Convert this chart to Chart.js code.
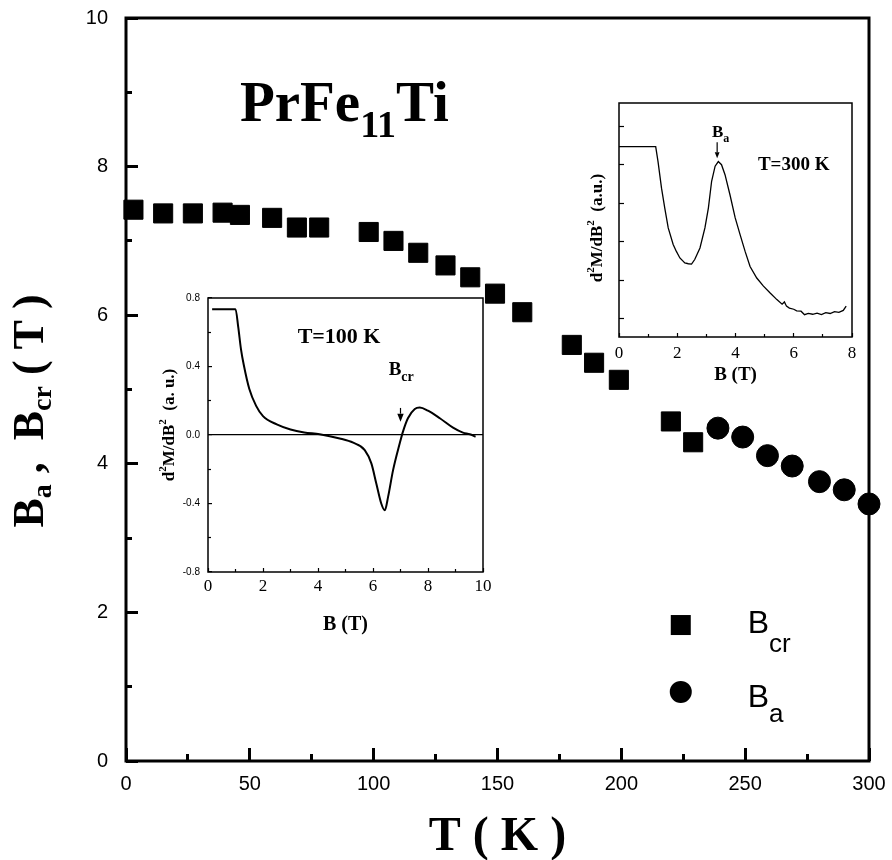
<!DOCTYPE html>
<html>
<head>
<meta charset="utf-8">
<title>PrFe11Ti</title>
<script src="https://cdn.jsdelivr.net/npm/chart.js@4.4.0/dist/chart.umd.min.js"></script>
<style>
  body { margin: 0; background: #fff; }
  #wrap { position: relative; width: 892px; height: 860px; background: #fff; }
  #wrap canvas { position: absolute; }
</style>
</head>
<body>
<div id="wrap">
  <canvas id="mainChart" width="892" height="860" style="left:0;top:0"></canvas>
  <canvas id="inset100" width="345" height="360" style="left:150px;top:285px"></canvas>
  <canvas id="inset300" width="290" height="300" style="left:575px;top:90px"></canvas>
</div>
<script>
// B_cr (squares) and B_a (circles) against temperature
const crTemps = [3, 15, 27, 39, 46, 59, 69, 78, 98, 108, 118, 129, 139, 149, 160, 180, 189, 199, 220, 229];
const crField = [7.42, 7.37, 7.37, 7.38, 7.35, 7.31, 7.18, 7.18, 7.12, 7.00, 6.84, 6.67, 6.51, 6.29, 6.04, 5.60, 5.36, 5.13, 4.57, 4.29];
const aTemps = [239, 249, 259, 269, 280, 290, 300];
const aField = [4.48, 4.36, 4.11, 3.97, 3.76, 3.65, 3.46];
const tempTicks = [0, 50, 100, 150, 200, 250, 300];
const tempMinor = [25, 75, 125, 175, 225, 275];
const fieldTicks = [0, 2, 4, 6, 8, 10];
const fieldMinor = [1, 3, 5, 7, 9];

// inset: d2M/dB2 at T = 100 K
const b100 = [0.15, 1.0, 1.1, 1.2, 1.3, 1.5, 1.75, 2.0, 2.5, 3.0, 3.5, 4.06, 4.79, 5.28, 5.7, 5.94, 6.12, 6.3, 6.43, 6.55, 6.73, 6.97, 7.09, 7.27, 7.52, 7.7, 8.0, 8.43, 8.91, 9.27, 9.52, 9.73];
const d2m100 = [0.735, 0.735, 0.63, 0.5, 0.41, 0.27, 0.17, 0.11, 0.062, 0.032, 0.015, 0.005, -0.02, -0.045, -0.088, -0.166, -0.283, -0.40, -0.44, -0.36, -0.205, -0.05, 0.02, 0.098, 0.152, 0.16, 0.142, 0.098, 0.043, 0.014, 0.004, -0.01];
const b100Ticks = [0, 2, 4, 6, 8, 10];
const b100Minor = [1, 3, 5, 7, 9];
const d2m100Ticks = [-0.8, -0.4, 0, 0.4, 0.8];
const d2m100Minor = [-0.6, -0.2, 0.2, 0.6];

// inset: d2M/dB2 at T = 300 K (arbitrary units)
const b300 = [0, 0.6, 1.26, 1.34, 1.46, 1.57, 1.69, 1.86, 1.97, 2.09, 2.26, 2.38, 2.49, 2.6, 2.78, 2.95, 3.07, 3.18, 3.3, 3.41, 3.52, 3.64, 3.81, 3.99, 4.16, 4.33, 4.5, 4.73, 4.96, 5.19, 5.42, 5.6, 5.68, 5.75, 5.85, 6.0, 6.1, 6.25, 6.37, 6.5, 6.65, 6.8, 6.95, 7.1, 7.25, 7.4, 7.55, 7.7, 7.8];
const d2m300 = [4.47, 4.47, 4.47, 4.08, 3.39, 2.88, 2.36, 1.93, 1.75, 1.58, 1.45, 1.43, 1.42, 1.54, 1.84, 2.36, 2.88, 3.57, 3.96, 4.08, 4.0, 3.74, 3.22, 2.62, 2.18, 1.75, 1.36, 1.06, 0.85, 0.67, 0.5, 0.38, 0.44, 0.33, 0.28, 0.25, 0.21, 0.2, 0.11, 0.14, 0.12, 0.15, 0.11, 0.16, 0.14, 0.19, 0.17, 0.22, 0.33];
const b300Ticks = [0, 2, 4, 6, 8];
const b300Minor = [1, 3, 5, 7];
const d2m300Ticks = [0, 1, 2, 3, 4, 5];

const SERIF = '"Liberation Serif", "Times New Roman", serif';
const SANS = '"Liberation Sans", Arial, sans-serif';
const serif = (size, weight = 'bold') => `${weight} ${size}px ${SERIF}`;
const sans = size => `${size}px ${SANS}`;
const toPoints = (xs, ys) => xs.map((v, i) => ({ x: v, y: ys[i] }));

// writes a run of text pieces (with sub/superscripts) one after another
function richText(ctx, parts, x, y, align) {
  let total = 0;
  parts.forEach(p => { ctx.font = p.font; p.w = ctx.measureText(p.text).width; total += p.w; });
  let cx = align === 'center' ? x - total / 2 : x;
  parts.forEach(p => { ctx.font = p.font; ctx.fillText(p.text, cx, y + (p.dy || 0)); cx += p.w; });
}

function arrow(ctx, x, y1, y2, head) {
  ctx.beginPath();
  ctx.moveTo(x, y1);
  ctx.lineTo(x, y2 - head);
  ctx.stroke();
  ctx.beginPath();
  ctx.moveTo(x - head * 0.4, y2 - head);
  ctx.lineTo(x + head * 0.4, y2 - head);
  ctx.lineTo(x, y2);
  ctx.closePath();
  ctx.fill();
}

// labelled axis + an extra axis carrying the short minor ticks, both pointing inward
function scalePair(axis, cfg) {
  const horiz = axis === 'x';
  const other = horiz ? 'y' : 'x';
  const zeroPads = s => { s.paddingLeft = s.paddingRight = s.paddingTop = s.paddingBottom = 0; };
  const major = {
    type: 'linear', axis, min: cfg.min, max: cfg.max,
    position: horiz ? 'bottom' : 'left',
    border: { display: false },
    afterBuildTicks: s => { s.ticks = cfg.major.map(v => ({ value: v })); },
    afterFit: s => { if (horiz) s.height = cfg.size; else s.width = cfg.size; zeroPads(s); },
    grid: {
      drawOnChartArea: !!cfg.zeroLine,
      color: c => (cfg.zeroLine && c.tick && c.tick.value === 0) ? '#000' : 'rgba(0,0,0,0)',
      lineWidth: cfg.zeroLine || 1,
      tickLength: -cfg.majorLen, tickWidth: cfg.tickWidth, tickColor: '#000'
    },
    ticks: {
      display: !!cfg.font, font: cfg.font, color: '#000', padding: cfg.pad,
      maxRotation: 0, autoSkip: false,
      callback: cfg.format || (v => String(v))
    }
  };
  const minor = {
    type: 'linear', axis, min: cfg.min, max: cfg.max,
    position: { [other]: cfg.cross },
    border: { display: false },
    afterBuildTicks: s => { s.ticks = cfg.minor.map(v => ({ value: v })); },
    afterFit: zeroPads,
    grid: { drawOnChartArea: false, tickLength: -cfg.minorLen, tickWidth: cfg.tickWidth, tickColor: '#000' },
    ticks: { display: false }
  };
  return { [axis]: major, [axis + 'm']: minor };
}

const frame = {
  id: 'frame',
  beforeDatasetsDraw(chart, args, opts) {
    const { ctx, chartArea: a } = chart;
    ctx.save();
    ctx.lineWidth = opts.width;
    ctx.strokeStyle = '#000';
    ctx.strokeRect(a.left, a.top, a.right - a.left, a.bottom - a.top);
    ctx.restore();
  }
};

const mainText = {
  id: 'mainText',
  afterDraw(chart) {
    const { ctx, chartArea: a, scales: { x, y } } = chart;
    ctx.save();
    ctx.fillStyle = '#000';
    ctx.strokeStyle = '#000';
    ctx.textAlign = 'left';
    ctx.textBaseline = 'alphabetic';

    richText(ctx, [
      { text: 'PrFe', font: serif(57) },
      { text: '11', font: serif(38), dy: 16 },
      { text: 'Ti', font: serif(57) }
    ], x.getPixelForValue(46), y.getPixelForValue(8.62));

    richText(ctx, [{ text: 'T ( K )', font: serif(48) }], (a.left + a.right) / 2, 850, 'center');

    ctx.save();
    ctx.translate(43, 411);
    ctx.rotate(-Math.PI / 2);
    richText(ctx, [
      { text: 'B', font: serif(44) },
      { text: 'a', font: serif(28), dy: 8 },
      { text: ' ,  ', font: serif(44) },
      { text: 'B', font: serif(44) },
      { text: 'cr', font: serif(28), dy: 8 },
      { text: ' ( T )', font: serif(44) }
    ], 0, 0, 'center');
    ctx.restore();

    // legend
    const lx = x.getPixelForValue(224);
    const ySq = y.getPixelForValue(1.83);
    const yCi = y.getPixelForValue(0.93);
    ctx.fillRect(lx - 10, ySq - 10, 20, 20);
    ctx.beginPath();
    ctx.arc(lx, yCi, 11, 0, Math.PI * 2);
    ctx.fill();
    const tx = x.getPixelForValue(251);
    richText(ctx, [{ text: 'B', font: sans(32) }, { text: 'cr', font: sans(26), dy: 19 }], tx, ySq + 8);
    richText(ctx, [{ text: 'B', font: sans(32) }, { text: 'a', font: sans(26), dy: 15 }], tx, yCi + 15);
    ctx.restore();
  }
};

new Chart(document.getElementById('mainChart'), {
  type: 'scatter',
  data: {
    datasets: [
      {
        label: 'Bcr', data: toPoints(crTemps, crField), xAxisID: 'x', yAxisID: 'y',
        pointStyle: 'rect', pointRadius: 13.5, backgroundColor: '#000', borderColor: '#000', borderWidth: 1, clip: false
      },
      {
        label: 'Ba', data: toPoints(aTemps, aField), xAxisID: 'x', yAxisID: 'y',
        pointStyle: 'circle', pointRadius: 11, backgroundColor: '#000', borderColor: '#000', borderWidth: 1, clip: false
      }
    ]
  },
  options: {
    responsive: false,
    animation: false,
    events: [],
    layout: { padding: { left: 0, top: 18, right: 23, bottom: 0 } },
    plugins: { legend: { display: false }, tooltip: { enabled: false }, frame: { width: 3 } },
    scales: Object.assign(
      scalePair('x', { min: 0, max: 300, major: tempTicks, minor: tempMinor, cross: 0, size: 99,
        majorLen: 13, minorLen: 7, tickWidth: 3, font: { family: SANS, size: 20 }, pad: 24 }),
      scalePair('y', { min: 0, max: 10, major: fieldTicks, minor: fieldMinor, cross: 0, size: 126,
        majorLen: 12, minorLen: 6, tickWidth: 3, font: { family: SANS, size: 20 }, pad: 30 })
    )
  },
  plugins: [frame, mainText]
});

const inset100Text = {
  id: 'inset100Text',
  afterDraw(chart) {
    const { ctx, chartArea: a, scales: { x, y } } = chart;
    ctx.save();
    ctx.fillStyle = '#000';
    ctx.strokeStyle = '#000';
    ctx.lineWidth = 1.2;
    ctx.textAlign = 'left';
    ctx.textBaseline = 'alphabetic';
    richText(ctx, [{ text: 'T=100 K', font: serif(22) }], x.getPixelForValue(3.26), y.getPixelForValue(0.538));
    richText(ctx, [{ text: 'B', font: serif(19) }, { text: 'cr', font: serif(14), dy: 6 }],
      x.getPixelForValue(6.57), y.getPixelForValue(0.351));
    arrow(ctx, x.getPixelForValue(7.0), y.getPixelForValue(0.158), y.getPixelForValue(0.078), 8);
    richText(ctx, [{ text: 'B (T)', font: serif(20) }], (a.left + a.right) / 2, 345, 'center');
    ctx.translate(24, 140);
    ctx.rotate(-Math.PI / 2);
    richText(ctx, [
      { text: 'd', font: serif(17) },
      { text: '2', font: serif(11), dy: -8 },
      { text: 'M/dB', font: serif(17) },
      { text: '2', font: serif(11), dy: -8 },
      { text: '  (a. u.)', font: serif(17) }
    ], 0, 0, 'center');
    ctx.restore();
  }
};

new Chart(document.getElementById('inset100'), {
  type: 'scatter',
  data: {
    datasets: [{
      data: toPoints(b100, d2m100), xAxisID: 'x', yAxisID: 'y',
      showLine: true, pointRadius: 0, borderColor: '#000', borderWidth: 2,
      cubicInterpolationMode: 'monotone'
    }]
  },
  options: {
    responsive: false,
    animation: false,
    events: [],
    layout: { padding: { left: 0, top: 13, right: 12, bottom: 0 } },
    plugins: { legend: { display: false }, tooltip: { enabled: false }, frame: { width: 1.5 } },
    scales: Object.assign(
      scalePair('x', { min: 0, max: 10, major: b100Ticks, minor: b100Minor, cross: -0.8, size: 73,
        majorLen: 4, minorLen: 3, tickWidth: 1.2, font: { family: SERIF, size: 17 }, pad: 8 }),
      scalePair('y', { min: -0.8, max: 0.8, major: d2m100Ticks, minor: d2m100Minor, cross: 0, size: 58,
        majorLen: 4, minorLen: 3, tickWidth: 1.2, font: { family: SANS, size: 10 }, pad: 12, zeroLine: 1.2,
        format: v => v.toFixed(1) })
    )
  },
  plugins: [frame, inset100Text]
});

const inset300Text = {
  id: 'inset300Text',
  afterDraw(chart) {
    const { ctx, chartArea: a, scales: { x, y } } = chart;
    ctx.save();
    ctx.fillStyle = '#000';
    ctx.strokeStyle = '#000';
    ctx.lineWidth = 1.2;
    ctx.textAlign = 'left';
    ctx.textBaseline = 'alphabetic';
    richText(ctx, [{ text: 'B', font: serif(17) }, { text: 'a', font: serif(12), dy: 5 }],
      x.getPixelForValue(3.19), y.getPixelForValue(4.71));
    arrow(ctx, x.getPixelForValue(3.37), y.getPixelForValue(4.58), y.getPixelForValue(4.17), 6);
    richText(ctx, [{ text: 'T=300 K', font: serif(19) }], x.getPixelForValue(4.77), y.getPixelForValue(3.86));
    richText(ctx, [{ text: 'B (T)', font: serif(19) }], (a.left + a.right) / 2, 290, 'center');
    ctx.translate(27, 138);
    ctx.rotate(-Math.PI / 2);
    richText(ctx, [
      { text: 'd', font: serif(17) },
      { text: '2', font: serif(11), dy: -8 },
      { text: 'M/dB', font: serif(17) },
      { text: '2', font: serif(11), dy: -8 },
      { text: '  (a.u.)', font: serif(17) }
    ], 0, 0, 'center');
    ctx.restore();
  }
};

new Chart(document.getElementById('inset300'), {
  type: 'scatter',
  data: {
    datasets: [{
      data: toPoints(b300, d2m300), xAxisID: 'x', yAxisID: 'y',
      showLine: true, pointRadius: 0, borderColor: '#000', borderWidth: 1.3
    }]
  },
  options: {
    responsive: false,
    animation: false,
    events: [],
    layout: { padding: { left: 0, top: 13, right: 13, bottom: 0 } },
    plugins: { legend: { display: false }, tooltip: { enabled: false }, frame: { width: 1.5 } },
    scales: Object.assign(
      scalePair('x', { min: 0, max: 8, major: b300Ticks, minor: b300Minor, cross: -0.47, size: 53,
        majorLen: 4, minorLen: 3, tickWidth: 1.2, font: { family: SERIF, size: 17 }, pad: 10 }),
      scalePair('y', { min: -0.47, max: 5.6, major: d2m300Ticks, minor: [], cross: 0, size: 44,
        majorLen: 5, minorLen: 3, tickWidth: 1.2, font: null, pad: 0 })
    )
  },
  plugins: [frame, inset300Text]
});
</script>
</body>
</html>
